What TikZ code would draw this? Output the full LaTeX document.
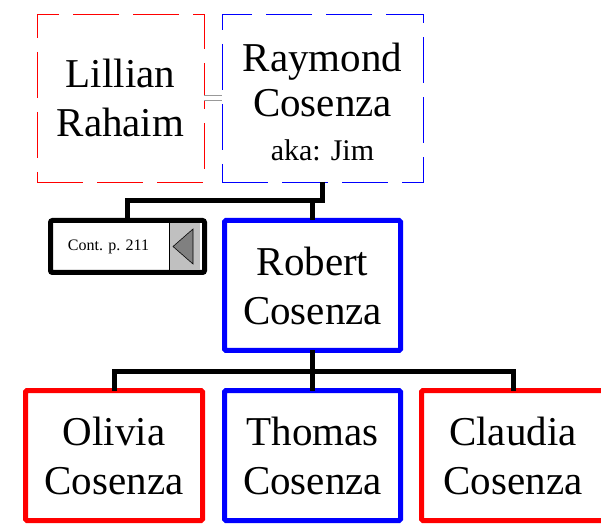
\documentclass[tikz,border=0pt]{standalone}
\usepackage{fontspec}
\setmainfont{Liberation Serif}
\usepackage{tikz}
\usetikzlibrary{positioning,calc}
\definecolor{fRed}{RGB}{255,0,0}
\definecolor{mBlue}{RGB}{0,0,255}
\definecolor{tabFill}{RGB}{192,192,192}
\definecolor{triFill}{RGB}{128,128,128}
\tikzset{
  spouse/.style={rectangle, dashed, dash pattern=on 46pt off 14pt, line width=0.9pt,
                 minimum width=167pt, minimum height=168pt, inner sep=0pt, outer sep=0pt,
                 align=center, font=\fontsize{41}{49}\selectfont},
  person/.style={rectangle, rounded corners=1.5pt, line width=5pt,
                 minimum width=177pt, minimum height=130pt, inner sep=0pt, outer sep=0pt,
                 align=center, font=\fontsize{41}{49}\selectfont},
  female/.style={draw=fRed},
  male/.style={draw=mBlue},
  contbox/.style={rectangle, rounded corners=2pt, draw=black, line width=5pt,
                  minimum width=154pt, minimum height=52pt, inner sep=0pt, outer sep=0pt},
  conttab/.style={rectangle, fill=tabFill, minimum width=31pt, minimum height=47pt,
                  inner sep=0pt, outer sep=0pt},
  contlbl/.style={inner sep=0pt, font=\fontsize{16}{19}\selectfont},
  contarrow/.style={draw=black, line width=0.6pt, fill=triFill},
  link/.style={draw=black, line width=5pt},
  marriage/.style={draw=gray!80, line width=0.8pt, double=white, double distance=3.5pt},
}
\begin{document}
\begin{tikzpicture}[x=1pt, y=1pt]
  \useasboundingbox (0,0) rectangle (601,527);

  % --- couple ---
  \node[spouse, female] (lillian) at (120.5,429) {Lillian\\Rahaim};
  \node[spouse, male, minimum width=201pt, right=18pt of lillian] (raymond)
    {\rule{0pt}{37pt}Raymond\\[-4pt]Cosenza\\[-5pt]{\fontsize{30}{36}\selectfont aka: Jim}};
  \draw[marriage] (lillian.east) -- (raymond.west);

  % --- second generation ---
  \node[person, male, minimum width=176pt, below=38.5pt of raymond, xshift=-10pt] (robert)
    {Robert\\Cosenza};

  % --- continuation box ---
  \node[contbox, anchor=north east] (cont) at ([xshift=-20pt]robert.north west) {};
  \node[conttab, anchor=east] (tab) at ([xshift=-4.5pt]cont.east) {};
  \draw[line width=0.8pt] (tab.north west) -- (tab.south west);
  \draw[contarrow] ([xshift=-11.5pt]tab.center) -- ([xshift=8.5pt, yshift=17.5pt]tab.center)
    -- ([xshift=8.5pt, yshift=-17.5pt]tab.center) -- cycle;
  \node[contlbl] (contlbl) at ([xshift=-19pt]cont.center) {Cont. p. 211};

  % --- third generation ---
  \node[person, male, minimum width=176pt, below=40pt of robert] (thomas) {Thomas\\Cosenza};
  \node[person, female, left=22pt of thomas] (olivia) {Olivia\\Cosenza};
  \node[person, female, right=21pt of thomas, minimum width=183pt] (claudia) {Claudia\\Cosenza};

  % --- descent lines ---
  \coordinate (fam1) at ($(raymond.south)+(0,-19)$);
  \coordinate (fam2) at ($(robert.south)+(0,-21.5)$);
  \draw[link] (raymond.south) |- (cont.north |- fam1) -- (cont.north);
  \draw[link] (fam1 -| robert.north) -- (robert.north);
  \draw[link] (robert.south) -- (fam2);
  \draw[link] (olivia.north) |- (fam2) -| (claudia.north);
  \draw[link] (fam2) -- (thomas.north);
\end{tikzpicture}
\end{document}
